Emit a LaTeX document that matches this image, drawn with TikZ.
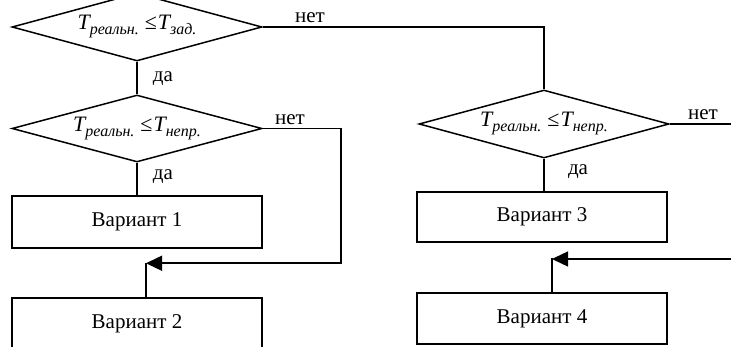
\documentclass[tikz,border=0pt]{standalone}
\usepackage{fontspec}
\setmainfont{Liberation Serif}
\usetikzlibrary{shapes.geometric,arrows.meta,calc}
\newcommand\Tsb[1]{{\itshape\fontsize{22}{24}\selectfont T\raisebox{-5pt}{\fontsize{16}{17}\selectfont #1}}}
\newcommand\cond[1]{\Tsb{реальн.}\hspace{6pt}{\fontsize{22}{24}\selectfont ≤}\hspace{1pt}\Tsb{#1}}
\begin{document}
\begin{tikzpicture}[x=1pt,y=-1pt,line width=1.5pt,
  dec/.style={diamond,draw,inner sep=0pt,minimum width=250pt,minimum height=68pt},
  blk/.style={rectangle,draw,inner sep=0pt,minimum width=250pt,minimum height=52pt,font=\fontsize{21}{24}\selectfont},
  lbl/.style={anchor=base,inner sep=0pt,font=\fontsize{21}{24}\selectfont},
  arr/.style={-{Triangle[length=16pt,width=15pt]}}]
\useasboundingbox (0,0) rectangle (731,347);
\clip (0,0) rectangle (731,347);
% decisions
\node[dec] (d1) at (137,27) {\makebox[0pt]{\cond{зад.}}};
\node[dec,minimum height=67pt] (d2) at (137,128.5) {\makebox[0pt]{\cond{непр.}}};
\node[dec] (d3) at (544,124) {\makebox[0pt]{\cond{непр.}}};
% blocks
\node[blk] (b1) at (137,222) {Вариант 1};
\node[blk] (b2) at (137,324) {Вариант 2};
\node[blk,minimum height=50pt] (b3) at (542,217) {Вариант 3};
\node[blk,minimum height=51pt] (b4) at (542,318.5) {Вариант 4};
% labels
\node[lbl] (n1) at (310,23) {нет};
\node[lbl] (n2) at (290,125) {нет};
\node[lbl] (n3) at (703,120) {нет};
\node[lbl] (y1) at (163,82) {да};
\node[lbl] (y2) at (163,180) {да};
\node[lbl] (y3) at (578,175) {да};
% coordinates
\coordinate (r1) at ($(d2.east)+(78,0)$);
\coordinate (a1) at ($(b2.north)+(9,-34)$);
\coordinate (a2) at ($(b4.north)+(10,-34)$);
\coordinate (e2) at (731,259);
\coordinate (e3) at (731,124);
% connectors
\draw (d1.east) -| (d3.north);
\draw (d1.south) -- (d2.north);
\draw (d2.south) -- (b1.north);
\draw (d3.south) -- (d3.south |- b3.north);
\draw (d3.east) -- (e3);
\draw[arr] (d2.east) -- (r1) |- (a1);
\draw (b2.north -| a1) -- (a1);
\draw[arr] (e2) -- (e2 -| a2);
\draw (b4.north -| a2) -- (a2);
\end{tikzpicture}
\end{document}
